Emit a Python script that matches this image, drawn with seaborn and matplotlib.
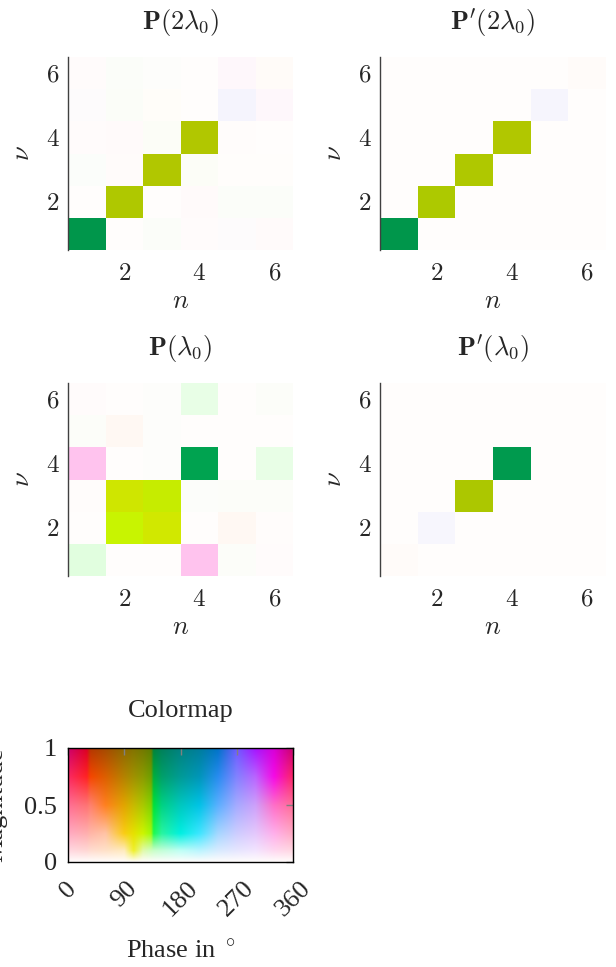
import numpy as np
import pandas as pd
import matplotlib
matplotlib.use("Agg")
import matplotlib.pyplot as plt
import seaborn as sns

# ---------------------------------------------------------------------------
# Matrix entries: magnitude and phase (degrees); rows are nu = 1..6,
# columns are n = 1..6.
# ---------------------------------------------------------------------------
n_index = [1, 2, 3, 4, 5, 6]
nu_index = [1, 2, 3, 4, 5, 6]
tick_values = [2, 4, 6]

P2_mag = [
    [0.87, 0.0, 0.007, 0.004, 0.008, 0.007],
    [0.0, 0.49, 0.0, 0.007, 0.007, 0.007],
    [0.007, 0.006, 0.49, 0.007, 0.002, 0.002],
    [0.004, 0.007, 0.007, 0.49, 0.002, 0.0],
    [0.008, 0.007, 0.002, 0.0, 0.040, 0.018],
    [0.004, 0.007, 0.004, 0.0, 0.018, 0.008],
]
P2_phase = [
    [142, 0, 150, 10, 270, 10],
    [0, 118, 0, 10, 145, 145],
    [165, 15, 117, 130, 90, 90],
    [5, 10, 125, 117, 30, 0],
    [280, 135, 100, 0, 268, 315],
    [5, 145, 150, 0, 315, 50],
]

P2r_mag = [
    [0.87, 0.0, 0.0, 0.0, 0.0, 0.0],
    [0.0, 0.49, 0.0, 0.0, 0.0, 0.0],
    [0.0, 0.0, 0.49, 0.0, 0.0, 0.0],
    [0.0, 0.0, 0.0, 0.49, 0.0, 0.0],
    [0.0, 0.0, 0.0, 0.0, 0.035, 0.0],
    [0.0, 0.0, 0.0, 0.0, 0.0, 0.006],
]
P2r_phase = [
    [142, 0, 0, 0, 0, 0],
    [0, 119, 0, 0, 0, 0],
    [0, 0, 118, 0, 0, 0],
    [0, 0, 0, 117, 0, 0],
    [0, 0, 0, 0, 270, 0],
    [0, 0, 0, 0, 0, 50],
]

P1_mag = [
    [0.055, 0.0, 0.0, 0.175, 0.006, 0.004],
    [0.0, 0.26, 0.285, 0.0, 0.018, 0.002],
    [0.002, 0.30, 0.30, 0.005, 0.006, 0.006],
    [0.175, 0.0, 0.004, 0.78, 0.0, 0.042],
    [0.006, 0.018, 0.004, 0.0, 0.0, 0.0],
    [0.004, 0.0, 0.004, 0.042, 0.0, 0.006],
]
P1_phase = [
    [137, 0, 0, 330, 145, 20],
    [0, 121, 115, 0, 55, 20],
    [20, 115, 120, 140, 145, 145],
    [330, 0, 150, 143, 0, 137],
    [145, 50, 150, 0, 0, 0],
    [5, 0, 150, 137, 0, 145],
]

P1r_mag = [
    [0.006, 0.0, 0.0, 0.0, 0.0, 0.0],
    [0.0, 0.03, 0.0, 0.0, 0.0, 0.0],
    [0.0, 0.0, 0.50, 0.0, 0.0, 0.0],
    [0.0, 0.0, 0.0, 0.84, 0.0, 0.0],
    [0.0, 0.0, 0.0, 0.0, 0.0, 0.0],
    [0.0, 0.0, 0.0, 0.0, 0.0, 0.0],
]
P1r_phase = [
    [50, 0, 0, 0, 0, 0],
    [0, 270, 0, 0, 0, 0],
    [0, 0, 119, 0, 0, 0],
    [0, 0, 0, 143, 0, 0],
    [0, 0, 0, 0, 0, 0],
    [0, 0, 0, 0, 0, 0],
]

titles = [r"$\mathbf{P}(2\lambda_0)$", r"$\mathbf{P}'(2\lambda_0)$",
          r"$\mathbf{P}(\lambda_0)$", r"$\mathbf{P}'(\lambda_0)$"]

# ---------------------------------------------------------------------------
# Two-dimensional phase/magnitude colour map, defined by anchor colours
# at a set of phases (rows) and magnitude levels (columns).
# ---------------------------------------------------------------------------
MAG_LEVELS = [0.0, 0.1, 0.25, 0.5, 0.75, 1.0]
W = (255, 253, 252)
ANCHORS = {
    0:   [W, (255, 215, 225), (255, 170, 195), (255, 110, 150), (250, 40, 100), (205, 0, 110)],
    30:  [W, (255, 215, 212), (255, 175, 175), (255, 115, 115), (255, 35, 35), (220, 0, 35)],
    36:  [W, (255, 220, 208), (255, 182, 168), (255, 128, 110), (245, 70, 0), (180, 55, 0)],
    60:  [W, (255, 225, 200), (255, 195, 165), (255, 128, 30), (220, 95, 0), (165, 75, 0)],
    90:  [W, (255, 235, 190), (250, 205, 20), (225, 165, 0), (180, 130, 0), (140, 105, 0)],
    105: [W, (240, 240, 40), (230, 225, 0), (200, 185, 0), (160, 145, 0), (130, 115, 0)],
    120: [W, (225, 250, 170), (205, 245, 0), (170, 200, 0), (140, 155, 0), (115, 120, 0)],
    133: [W, (205, 255, 190), (160, 250, 10), (130, 210, 0), (110, 160, 0), (95, 125, 0)],
    137: [W, (200, 255, 200), (30, 250, 80), (0, 225, 60), (0, 175, 60), (0, 130, 60)],
    150: [W, (195, 255, 215), (40, 245, 160), (0, 210, 130), (0, 160, 105), (0, 128, 90)],
    180: [W, (190, 255, 245), (0, 240, 225), (0, 200, 190), (0, 155, 150), (0, 128, 128)],
    210: [W, (185, 245, 255), (60, 230, 255), (0, 195, 230), (0, 150, 185), (0, 125, 155)],
    240: [W, (215, 235, 255), (165, 215, 255), (90, 175, 255), (40, 140, 240), (0, 115, 200)],
    270: [W, (230, 230, 255), (205, 205, 255), (165, 170, 255), (130, 130, 255), (110, 90, 255)],
    300: [W, (242, 228, 255), (228, 200, 252), (205, 160, 250), (185, 100, 255), (165, 20, 255)],
    330: [W, (255, 215, 240), (255, 175, 235), (255, 110, 200), (245, 10, 230), (215, 0, 215)],
}
ANCHORS[360] = ANCHORS[0]
PHASE_STOPS = sorted(ANCHORS)


def phase_mag_to_rgb(mag, phase):
    mag = np.clip(np.asarray(mag, float), 0, 1)
    phase = np.mod(np.asarray(phase, float), 360)
    shape = mag.shape
    m = mag.ravel()
    p = phase.ravel()
    table = np.array([ANCHORS[ph] for ph in PHASE_STOPS], float) / 255.0
    along = np.empty((len(MAG_LEVELS), m.size, 3))
    for k in range(len(MAG_LEVELS)):
        for c in range(3):
            along[k, :, c] = np.interp(p, PHASE_STOPS, table[:, k, c])
    lev = np.asarray(MAG_LEVELS)
    idx = np.clip(np.searchsorted(lev, m, side="right") - 1, 0, len(lev) - 2)
    w = (m - lev[idx]) / (lev[idx + 1] - lev[idx])
    cols = np.arange(m.size)
    rgb = along[idx, cols] * (1 - w)[:, None] + along[idx + 1, cols] * w[:, None]
    return np.clip(rgb, 0, 1).reshape(shape + (3,))


# ---------------------------------------------------------------------------
# Styling
# ---------------------------------------------------------------------------
sns.set_style("white")
plt.rcParams["font.family"] = ["Liberation Serif", "DejaVu Serif"]
plt.rcParams["mathtext.fontset"] = "cm"

FS = 19
fig = plt.figure(figsize=(6.16, 9.67), dpi=100)
W_PX, H_PX = 616, 967


def axes_px(left, top, right, bottom):
    return fig.add_axes([left / W_PX, 1 - bottom / H_PX,
                         (right - left) / W_PX, (bottom - top) / H_PX])


def draw_matrix(ax, mag, phase, title):
    mag = np.asarray(mag, float)
    phase = np.asarray(phase, float)
    df = pd.DataFrame(mag[::-1], index=nu_index[::-1], columns=n_index)
    sns.heatmap(df, ax=ax, cbar=False, cmap="Greys", vmin=0, vmax=1,
                xticklabels=False, yticklabels=False, linewidths=0)
    mesh = ax.collections[0]
    rgb = phase_mag_to_rgb(mag[::-1], phase[::-1]).reshape(-1, 3)
    mesh.set_array(None)
    mesh.set_facecolor(rgb)
    mesh.set_edgecolor("face")

    ax.set_xticks([n_index.index(v) + 0.5 for v in tick_values])
    ax.set_xticklabels([f"${v}$" for v in tick_values])
    ax.set_yticks([nu_index[::-1].index(v) + 0.5 for v in tick_values])
    ax.set_yticklabels([f"${v}$" for v in tick_values])
    ax.tick_params(axis="both", length=0, labelsize=18, labelrotation=0)
    ax.tick_params(axis="x", pad=9)
    ax.tick_params(axis="y", pad=6)
    for side in ("top", "right", "bottom"):
        ax.spines[side].set_visible(False)
    ax.spines["left"].set_visible(True)
    ax.spines["left"].set_color("#404040")
    ax.spines["left"].set_linewidth(1.0)

    ax.set_xlabel(r"$n$", fontsize=FS)
    ax.set_ylabel(r"$\nu$", fontsize=FS)
    ax.xaxis.set_label_coords(0.5, -0.215)
    ax.yaxis.set_label_coords(-0.15, 0.5)
    ax.set_title(title, fontsize=FS, pad=20)


ax1 = axes_px(68, 57, 293, 250)
ax2 = axes_px(380, 57, 606, 250)
ax3 = axes_px(68, 383, 293, 576)
ax4 = axes_px(380, 383, 606, 576)

draw_matrix(ax1, P2_mag, P2_phase, titles[0])
draw_matrix(ax2, P2r_mag, P2r_phase, titles[1])
draw_matrix(ax3, P1_mag, P1_phase, titles[2])
draw_matrix(ax4, P1r_mag, P1r_phase, titles[3])

# ---------------------------------------------------------------------------
# Colour map legend: phase along x, magnitude along y
# ---------------------------------------------------------------------------
axc = axes_px(68, 748, 293, 862)
phase_axis = np.linspace(0, 360, 721)
mag_axis = np.linspace(0, 1, 241)
PH, MG = np.meshgrid(phase_axis, mag_axis)
axc.imshow(phase_mag_to_rgb(MG, PH), origin="lower", extent=[0, 360, 0, 1],
           aspect="auto", interpolation="bilinear")
axc.set_xlim(0, 360)
axc.set_ylim(0, 1)
axc.set_xticks([0, 90, 180, 270, 360])
axc.set_xticklabels(["0", "90", "180", "270", "360"], rotation=45)
axc.set_yticks([0, 0.5, 1])
axc.set_yticklabels(["0", "0.5", "1"])
axc.tick_params(axis="both", direction="in", length=5, width=1, color="#808080",
                labelsize=FS, top=True, right=True)
axc.tick_params(axis="x", pad=11)
axc.tick_params(axis="y", pad=8)
for side in axc.spines.values():
    side.set_visible(True)
    side.set_color("black")
    side.set_linewidth(1.0)
axc.set_title("Colormap", fontsize=FS, pad=22)
axc.set_xlabel(r"Phase in $^\circ$", fontsize=FS)
axc.set_ylabel("Magnitude", fontsize=FS)
axc.xaxis.set_label_coords(0.5, -0.68)
axc.yaxis.set_label_coords(-0.27, 0.5)

fig.savefig("out.png", dpi=100)
